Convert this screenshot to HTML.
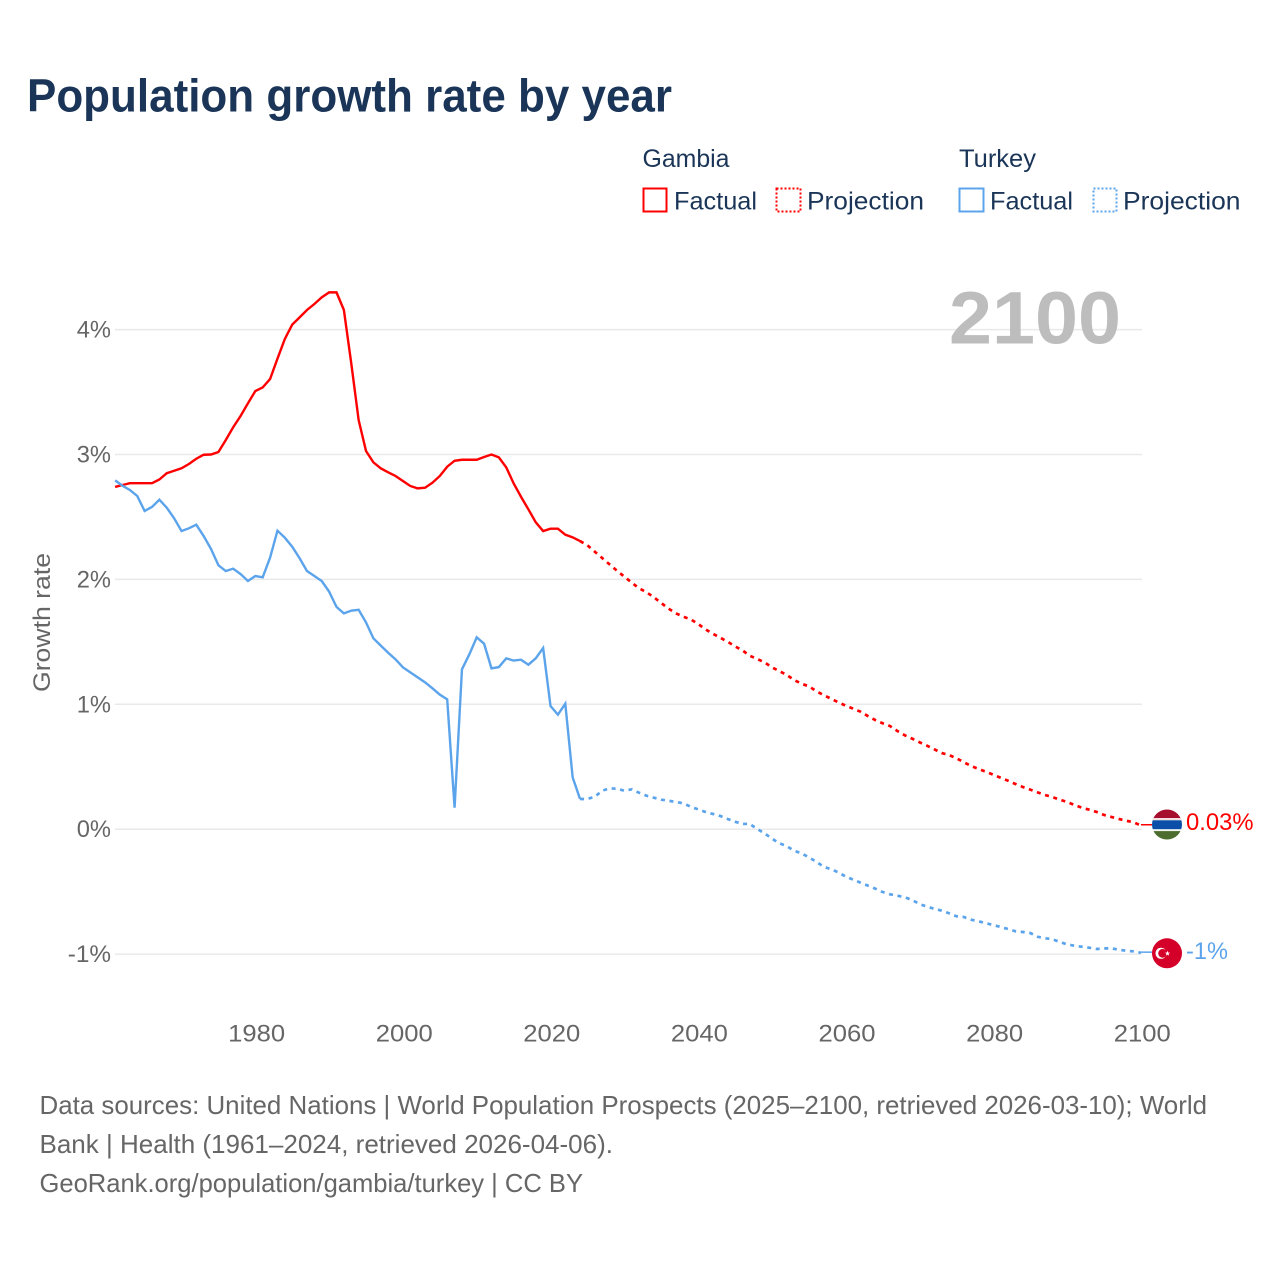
<!DOCTYPE html>
<html lang="en">
<head>
<meta charset="utf-8">
<title>Population growth rate by year</title>
<style>
html,body{margin:0;padding:0;background:#fff;width:1280px;height:1280px;overflow:hidden}
svg{display:block;font-family:"Liberation Sans",Arial,sans-serif}
</style>
</head>
<body>
<svg id="chart" width="1280" height="1280" viewBox="0 0 1280 1280" xmlns="http://www.w3.org/2000/svg">
  <defs>
    <clipPath id="gambia-clip"><circle cx="1167" cy="824.5" r="15"/></clipPath>
    <clipPath id="turkey-clip"><circle cx="1167" cy="953.3" r="15"/></clipPath>
  </defs>
  <text x="27" y="111.5" font-size="46" font-weight="700" fill="#1a3557" textLength="645" lengthAdjust="spacingAndGlyphs">Population growth rate by year</text>

  <g>
    <text x="642.5" y="167" font-size="25" fill="#1a3557" textLength="87" lengthAdjust="spacingAndGlyphs">Gambia</text>
    <rect x="643.5" y="188.5" width="23" height="23" fill="none" stroke="#ff0000" stroke-width="2"/>
    <text x="674" y="209.5" font-size="25" fill="#1a3557" textLength="83" lengthAdjust="spacingAndGlyphs">Factual</text>
    <rect x="776.5" y="188.5" width="24" height="23" fill="none" stroke="#ff0000" stroke-width="2" stroke-dasharray="2 2"/>
    <text x="807" y="209.5" font-size="25" fill="#1a3557" textLength="117" lengthAdjust="spacingAndGlyphs">Projection</text>
    <text x="959" y="167" font-size="25" fill="#1a3557" textLength="77" lengthAdjust="spacingAndGlyphs">Turkey</text>
    <rect x="959.5" y="188.5" width="24" height="23" fill="none" stroke="#5ba4ec" stroke-width="2"/>
    <text x="990" y="209.5" font-size="25" fill="#1a3557" textLength="83" lengthAdjust="spacingAndGlyphs">Factual</text>
    <rect x="1093.5" y="188.5" width="23" height="23" fill="none" stroke="#5ba4ec" stroke-width="2" stroke-dasharray="2 2"/>
    <text x="1123" y="209.5" font-size="25" fill="#1a3557" textLength="117.5" lengthAdjust="spacingAndGlyphs">Projection</text>
  </g>

  <text transform="translate(50,622.5) rotate(-90)" text-anchor="middle" font-size="24" fill="#666666" textLength="139" lengthAdjust="spacingAndGlyphs">Growth rate</text>

  <g id="grid"></g>
  <g id="y-ticks"></g>
  <g id="x-ticks"></g>

  <text x="949" y="343.5" font-size="74" font-weight="700" fill="#bdbdbd" textLength="172" lengthAdjust="spacingAndGlyphs">2100</text>

  <g id="series"></g>

  <g clip-path="url(#gambia-clip)">
    <rect x="1150" y="809" width="34" height="11" fill="#a50e2d"/>
    <rect x="1150" y="818" width="34" height="2.3" fill="#f3dfe0"/>
    <rect x="1150" y="820.3" width="34" height="9" fill="#0c4fa8"/>
    <rect x="1150" y="829.3" width="34" height="1.8" fill="#f4f4f4"/>
    <rect x="1150" y="831.1" width="34" height="9" fill="#4c6d2e"/>
  </g>
  <g clip-path="url(#turkey-clip)">
    <rect x="1150" y="937" width="34" height="33" fill="#d5002a"/>
    <circle cx="1161" cy="953.3" r="5.5" fill="#fff"/>
    <circle cx="1162.6" cy="953.3" r="4.4" fill="#d5002a"/>
    <polygon points="1167.5,950.8 1168.2,952.6 1170.1,952.6 1168.6,953.8 1169.1,955.7 1167.5,954.6 1165.9,955.7 1166.4,953.8 1164.9,952.6 1166.8,952.6" fill="#fff"/>
  </g>
  <text x="1186" y="830" font-size="24.5" fill="#ff0000" textLength="67.5" lengthAdjust="spacingAndGlyphs">0.03%</text>
  <text x="1186" y="959" font-size="24.5" fill="#5ba4ec" textLength="42" lengthAdjust="spacingAndGlyphs">-1%</text>

  <g font-size="26" fill="#666666">
    <text x="39.5" y="1114" textLength="1167.5" lengthAdjust="spacingAndGlyphs">Data sources: United Nations | World Population Prospects (2025–2100, retrieved 2026-03-10); World</text>
    <text x="39.5" y="1153" textLength="573.5" lengthAdjust="spacingAndGlyphs">Bank | Health (1961–2024, retrieved 2026-04-06).</text>
    <text x="39.5" y="1192" textLength="543.5" lengthAdjust="spacingAndGlyphs">GeoRank.org/population/gambia/turkey | CC BY</text>
  </g>
</svg>
<script>
var factualStartYear = 1961;
var projectionStartYear = 2024;
var yTickValues = [-1, 0, 1, 2, 3, 4];
var yTickLabels = ["-1%", "0%", "1%", "2%", "3%", "4%"];
var xTickYears = [1980, 2000, 2020, 2040, 2060, 2080, 2100];
var gambiaFactual = [2.74,2.756,2.77,2.77,2.77,2.77,2.80,2.85,2.87,2.89,2.924,2.966,2.998,3.0,3.02,3.116,3.218,3.308,3.41,3.508,3.537,3.604,3.767,3.925,4.04,4.098,4.157,4.205,4.258,4.298,4.298,4.157,3.73,3.276,3.028,2.937,2.889,2.857,2.828,2.788,2.748,2.729,2.734,2.774,2.828,2.902,2.95,2.958,2.958,2.958,2.98,3.0,2.977,2.897,2.769,2.662,2.561,2.457,2.387,2.406,2.406,2.358,2.337,2.307];
var turkeyFactual = [2.793,2.75,2.716,2.668,2.548,2.58,2.638,2.574,2.489,2.387,2.409,2.438,2.347,2.243,2.113,2.067,2.086,2.043,1.987,2.027,2.017,2.174,2.39,2.334,2.262,2.169,2.067,2.027,1.987,1.902,1.78,1.728,1.75,1.757,1.656,1.528,1.47,1.413,1.36,1.296,1.256,1.216,1.176,1.128,1.077,1.04,0.172,1.28,1.4,1.536,1.485,1.288,1.298,1.368,1.35,1.357,1.317,1.368,1.45,0.986,0.917,1.005,0.415,0.242];
var gambiaProjection = [2.307,2.273,2.222,2.171,2.12,2.07,2.022,1.974,1.929,1.897,1.857,1.811,1.766,1.728,1.701,1.68,1.643,1.6,1.565,1.533,1.501,1.464,1.432,1.389,1.363,1.336,1.296,1.267,1.235,1.195,1.165,1.144,1.106,1.074,1.045,1.016,0.989,0.965,0.941,0.906,0.874,0.848,0.826,0.786,0.752,0.725,0.696,0.669,0.64,0.61,0.594,0.568,0.536,0.506,0.482,0.46,0.436,0.412,0.388,0.362,0.338,0.317,0.295,0.274,0.258,0.236,0.218,0.194,0.172,0.156,0.138,0.114,0.098,0.082,0.068,0.055,0.03];
var turkeyProjection = [0.242,0.242,0.26,0.308,0.327,0.324,0.308,0.319,0.292,0.268,0.252,0.236,0.228,0.218,0.207,0.18,0.159,0.138,0.122,0.106,0.082,0.06,0.042,0.042,0.002,-0.033,-0.075,-0.113,-0.135,-0.172,-0.193,-0.225,-0.26,-0.3,-0.321,-0.345,-0.38,-0.404,-0.428,-0.452,-0.476,-0.503,-0.521,-0.532,-0.545,-0.567,-0.599,-0.62,-0.637,-0.652,-0.673,-0.697,-0.703,-0.725,-0.737,-0.753,-0.767,-0.783,-0.799,-0.817,-0.823,-0.831,-0.861,-0.873,-0.881,-0.903,-0.922,-0.933,-0.941,-0.949,-0.959,-0.954,-0.954,-0.965,-0.973,-0.978,-0.99];

var SVGNS = "http://www.w3.org/2000/svg";
function xScale(year) { return 115.1 + (year - 1961) * 7.38; }
function yScale(value) { return 829.2 - value * 124.9; }
function make(tag, parent) {
  var el = document.createElementNS(SVGNS, tag);
  parent.appendChild(el);
  return el;
}
function linePath(values, startYear) {
  var d = "";
  for (var i = 0; i < values.length; i++) {
    d += (i ? "L" : "M") + xScale(startYear + i).toFixed(2) + " " + yScale(values[i]).toFixed(2);
  }
  return d;
}
function labelWidth(label) {
  var w = 0;
  for (var i = 0; i < label.length; i++) {
    var c = label.charAt(i);
    w += c === "%" ? 20 : (c === "-" ? 9 : 14.25);
  }
  return w;
}

var gridGroup = document.getElementById("grid");
var yTickGroup = document.getElementById("y-ticks");
var xTickGroup = document.getElementById("x-ticks");
var seriesGroup = document.getElementById("series");

yTickValues.forEach(function (value, i) {
  var gridLine = make("line", gridGroup);
  
  
  gridLine.setAttribute("x1", 115);
  gridLine.setAttribute("x2", 1142);
  gridLine.setAttribute("y1", yScale(value));
  gridLine.setAttribute("y2", yScale(value));
  gridLine.setAttribute("stroke", "#e9e9e9");
  gridLine.setAttribute("stroke-width", "1.5");

  var tick = make("text", yTickGroup);
  
  
  tick.setAttribute("x", 111);
  tick.setAttribute("y", yScale(value) + 8);
  tick.setAttribute("text-anchor", "end");
  tick.setAttribute("font-size", "24.5");
  tick.setAttribute("fill", "#666666");
  tick.setAttribute("textLength", labelWidth(yTickLabels[i]));
  tick.setAttribute("lengthAdjust", "spacingAndGlyphs");
  tick.textContent = yTickLabels[i];
});

xTickYears.forEach(function (year) {
  var tick = make("text", xTickGroup);
  
  
  tick.setAttribute("x", xScale(year) + 1.3);
  tick.setAttribute("y", 1041.5);
  tick.setAttribute("text-anchor", "middle");
  tick.setAttribute("font-size", "24.5");
  tick.setAttribute("fill", "#666666");
  tick.setAttribute("textLength", labelWidth(String(year)));
  tick.setAttribute("lengthAdjust", "spacingAndGlyphs");
  tick.textContent = String(year);
});

function leaderLine(values, color) {
  var last = values[values.length - 1];
  var leader = make("line", seriesGroup);
  leader.setAttribute("x1", xScale(2100));
  leader.setAttribute("x2", 1152);
  leader.setAttribute("y1", yScale(last) - 0.7);
  leader.setAttribute("y2", yScale(last) - 0.7);
  leader.setAttribute("stroke", color);
  leader.setAttribute("stroke-width", "1.5");
  return leader;
}

var gambiaLine = make("path", seriesGroup);


gambiaLine.setAttribute("d", linePath(gambiaFactual, factualStartYear));
gambiaLine.setAttribute("fill", "none");
gambiaLine.setAttribute("stroke", "#ff0000");
gambiaLine.setAttribute("stroke-width", "2.4");

var gambiaDash = make("path", seriesGroup);


gambiaDash.setAttribute("d", linePath(gambiaProjection, projectionStartYear));
gambiaDash.setAttribute("fill", "none");
gambiaDash.setAttribute("stroke", "#ff0000");
gambiaDash.setAttribute("stroke-width", "2.7");
gambiaDash.setAttribute("stroke-dasharray", "4 4.6");

var gambiaLeader = leaderLine(gambiaProjection, "#ff0000");



var turkeyLine = make("path", seriesGroup);


turkeyLine.setAttribute("d", linePath(turkeyFactual, factualStartYear));
turkeyLine.setAttribute("fill", "none");
turkeyLine.setAttribute("stroke", "#5ba4ec");
turkeyLine.setAttribute("stroke-width", "2.4");

var turkeyDash = make("path", seriesGroup);


turkeyDash.setAttribute("d", linePath(turkeyProjection, projectionStartYear));
turkeyDash.setAttribute("fill", "none");
turkeyDash.setAttribute("stroke", "#5ba4ec");
turkeyDash.setAttribute("stroke-width", "2.7");
turkeyDash.setAttribute("stroke-dasharray", "4 4.6");

var turkeyLeader = leaderLine(turkeyProjection, "#5ba4ec");


</script>
</body>
</html>
